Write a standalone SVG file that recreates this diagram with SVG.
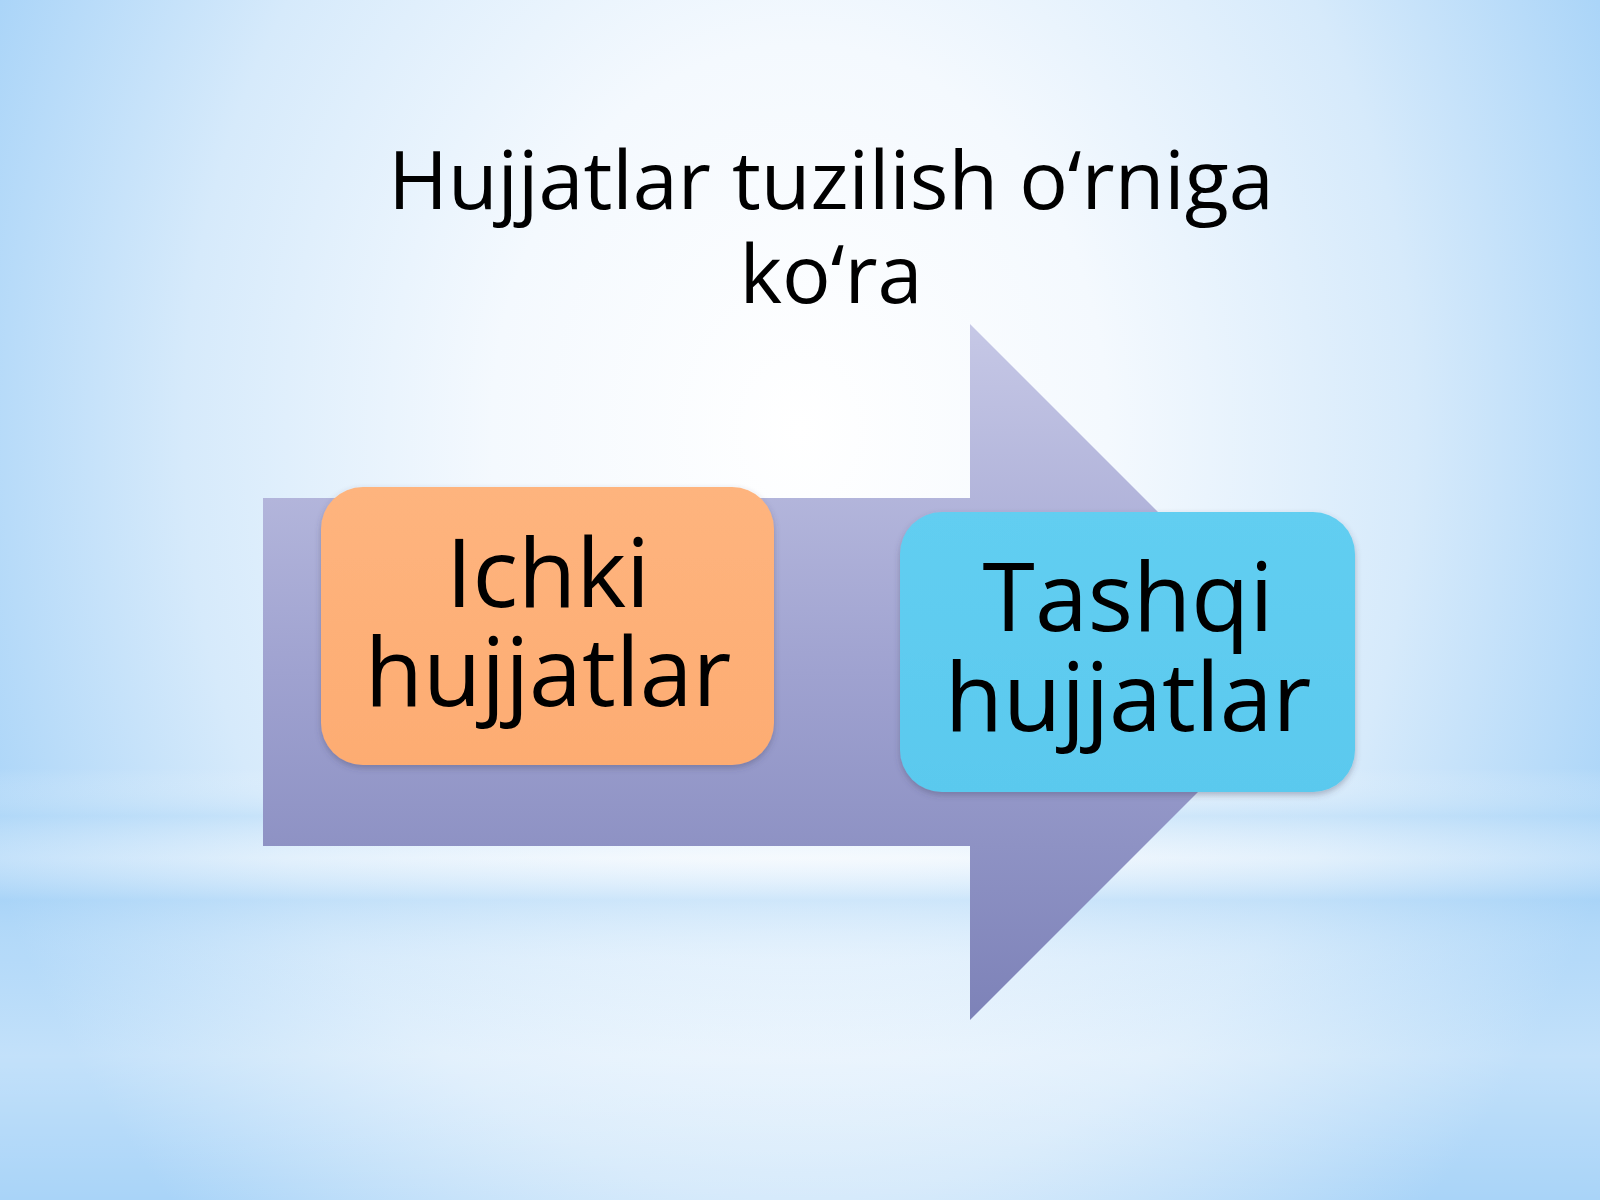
<svg xmlns="http://www.w3.org/2000/svg" width="1600" height="1200" viewBox="0 0 1600 1200">
  <defs>
    <radialGradient id="bg" cx="800" cy="430" r="880" gradientUnits="userSpaceOnUse" gradientTransform="translate(800 430) scale(1 1.25) translate(-800 -430)">
      <stop offset="0" stop-color="#ffffff"/>
      <stop offset="0.35" stop-color="#f4f9fe"/>
      <stop offset="0.7" stop-color="#d6eafb"/>
      <stop offset="1" stop-color="#a9d4f8"/>
    </radialGradient>
    <linearGradient id="band" x1="0" y1="0" x2="0" y2="1200" gradientUnits="userSpaceOnUse">
      <stop offset="0.64" stop-color="#ffffff" stop-opacity="0"/>
      <stop offset="0.68" stop-color="#b6dbf8" stop-opacity="0.45"/>
      <stop offset="0.715" stop-color="#ffffff" stop-opacity="0.3"/>
      <stop offset="0.75" stop-color="#a9d4f7" stop-opacity="0.45"/>
      <stop offset="0.8" stop-color="#d8ecfc" stop-opacity="0.25"/>
      <stop offset="0.88" stop-color="#ffffff" stop-opacity="0.3"/>
      <stop offset="1" stop-color="#ffffff" stop-opacity="0"/>
    </linearGradient>
    <linearGradient id="arrowFill" x1="0" y1="324" x2="0" y2="1020" gradientUnits="userSpaceOnUse">
      <stop offset="0" stop-color="#c6c8e6"/>
      <stop offset="0.5" stop-color="#9fa2d0"/>
      <stop offset="1" stop-color="#7d82b8"/>
    </linearGradient>
    <linearGradient id="orangeFill" x1="0" y1="0" x2="0" y2="1">
      <stop offset="0" stop-color="#feb47e"/>
      <stop offset="1" stop-color="#fdac72"/>
    </linearGradient>
    <linearGradient id="blueFill" x1="0" y1="0" x2="0" y2="1">
      <stop offset="0" stop-color="#62cef1"/>
      <stop offset="1" stop-color="#5ac9ee"/>
    </linearGradient>
    <filter id="shadow" x="-10%" y="-10%" width="120%" height="125%">
      <feDropShadow dx="0" dy="3" stdDeviation="3" flood-color="#404060" flood-opacity="0.35"/>
    </filter>
    <style>
      .title { font-family: "Open Sans", "Noto Sans", "DejaVu Sans", sans-serif; font-size: 81px; fill: #000000; text-anchor: middle; }
      .label { font-family: "Open Sans", "Noto Sans", "DejaVu Sans", sans-serif; font-size: 95px; fill: #000000; text-anchor: middle; }
    </style>
  </defs>

  <rect x="0" y="0" width="1600" height="1200" fill="url(#bg)"/>
  <rect x="0" y="0" width="1600" height="1200" fill="url(#band)"/>

  <g id="title">
    <text class="title" x="831" y="209">Hujjatlar tuzilish o‘rniga</text>
    <text class="title" x="831" y="303">ko‘ra</text>
  </g>

  <g id="connectors">
    <path id="big-arrow" d="M263 498 H970 V324 L1318 672 L970 1020 V846 H263 Z" fill="url(#arrowFill)"/>
  </g>

  <g id="node-ichki">
    <rect x="321" y="487" width="453" height="278" rx="42" ry="42" fill="url(#orangeFill)" filter="url(#shadow)"/>
    <text class="label" x="548" y="607">Ichki</text>
    <text class="label" x="548" y="706">hujjatlar</text>
  </g>

  <g id="node-tashqi">
    <rect x="900" y="512" width="455" height="280" rx="42" ry="42" fill="url(#blueFill)" filter="url(#shadow)"/>
    <text class="label" x="1128" y="631">Tashqi</text>
    <text class="label" x="1128" y="731">hujjatlar</text>
  </g>
</svg>
